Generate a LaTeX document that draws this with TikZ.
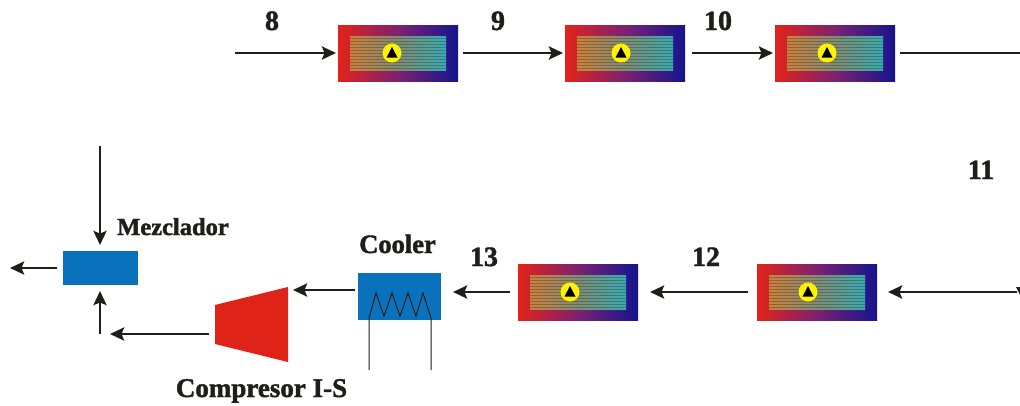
\documentclass[tikz,border=0pt]{standalone}
\usepackage{fontspec}
\setmainfont{Liberation Serif}[BoldFeatures={FakeBold=1.6}]
\usetikzlibrary{arrows.meta}
\definecolor{ink}{HTML}{1E1E1C}
\definecolor{coolblue}{HTML}{0A72BC}
\definecolor{compred}{HTML}{DF2318}
\definecolor{hxleft}{HTML}{E2231A}
\definecolor{hxmid}{HTML}{7B2270}
\definecolor{hxright}{HTML}{16148F}
\definecolor{coreleft}{HTML}{D0803A}
\definecolor{coremid}{HTML}{7F8C72}
\definecolor{coreright}{HTML}{35ADB5}
\tikzset{
  flow/.style={draw=ink,line width=2.7pt,-{Stealth[length=14pt,width=13pt,inset=2.5pt]}},
  plainflow/.style={draw=ink,line width=2.7pt},
  hxbox/.style={minimum width=120pt,minimum height=56pt,inner sep=0pt,outer sep=0pt,
    left color=hxleft,right color=hxright,middle color=hxmid},
  hxcore/.style={minimum width=96pt,minimum height=34pt,inner sep=0pt,outer sep=0pt,
    left color=coreleft,right color=coreright,middle color=coremid},
  stripe/.style={draw=black!60!coremid,opacity=.4,line width=.8pt},
  lbl/.style={font=\bfseries\fontsize{25}{27}\selectfont,text=ink,anchor=base,inner sep=0pt},
  numlbl/.style={lbl,font=\bfseries\fontsize{28}{30}\selectfont},
  blockblue/.style={fill=coolblue,draw=none,inner sep=0pt,outer sep=0pt},
}
\newcommand{\hxunit}[4]{%
  \node[hxbox] (#1) at (#2,#3) {};
  \node[hxcore] (#1core) at (#2,#3) {};
  \foreach \dy in {-15,-12,...,15}{
    \draw[stripe] (#2-48,#3+\dy) -- (#2+48,#3+\dy);
  }
  \node[circle,fill=yellow,minimum size=19pt,inner sep=0pt] (#1pump) at (#2+#4,#3) {};
  \fill[black] (#2+#4,#3-6) -- (#2+#4+5.5,#3+4.5) -- (#2+#4-5.5,#3+4.5) -- cycle;
}
\begin{document}
\begin{tikzpicture}[x=1pt,y=-1pt]
\useasboundingbox (0,0) rectangle (1020,405);
\fill[white] (0,0) rectangle (1020,405);
% exchangers
\hxunit{hA}{398}{53}{-6}
\hxunit{hB}{625}{53}{-4}
\hxunit{hC}{835}{53}{-8}
\hxunit{hD}{578}{292}{-8}
\hxunit{hE}{817}{292}{-9}
% cooler
\node[blockblue,minimum width=83pt,minimum height=47pt] (cooler) at (399.5,296.5) {};
\draw[draw=ink,line width=1pt] (369,370) -- (369,318) -- (376,293) -- (384,316) -- (392,293) -- (400,316) -- (408,293) -- (416,316) -- (423,293) -- (431,318) -- (431,370);
% compressor
\fill[compred] (215,305) -- (288,287) -- (288,362) -- (215,344) -- cycle;
\coordinate (compIn) at (288,290);
\coordinate (compOut) at (215,334);
% mixer
\node[blockblue,minimum width=75pt,minimum height=34pt] (mixer) at (100.5,268) {};
% free ends
\coordinate (inTop) at (235,53);
\coordinate (outTop) at (1020,53);
\coordinate (inRight) at (1017,292);
\coordinate (inMix) at (100,146);
\coordinate (outMix) at (10,268);
\coordinate (bend) at (100,334);
\coordinate (bendArrow) at (110,334);
% connectors
\draw[flow,shorten >=2pt] (inTop) -- (hA.west);
\draw[flow,shorten <=5pt,shorten >=2pt] (hA.east) -- (hB.west);
\draw[flow,shorten <=7pt,shorten >=2pt] (hB.east) -- (hC.west);
\draw[plainflow,shorten <=5pt] (hC.east) -- (outTop);
\draw[flow,shorten >=11pt] (inRight) -- (hE.east);
\draw[flow,shorten <=9pt,shorten >=12pt] (hE.west) -- (hD.east);
\draw[flow,shorten <=8pt,shorten >=12pt] (hD.west) -- (hD.west -| cooler.east);
\draw[flow,shorten <=3pt,shorten >=5pt] (compIn -| cooler.west) -- (compIn);
\draw[flow,shorten <=6pt] (compOut) -- (bendArrow);
\draw[flow,shorten >=6pt] (bend) -- (bend |- mixer.south);
\draw[flow,shorten >=6pt] (inMix) -- (inMix |- mixer.north);
\draw[flow,shorten <=6pt] (mixer.west) -- (outMix);
% tip of the next stream at the right edge
\fill[ink] (1016,287) -- (1020,287) -- (1020,295) -- cycle;
% labels
\node[numlbl] (l8) at (272,30) {8};
\node[numlbl] (l9) at (498,30) {9};
\node[numlbl] (l10) at (718,30) {10};
\node[numlbl] (l11) at (981,179) {11};
\node[numlbl] (l12) at (706,266) {12};
\node[numlbl] (l13) at (484,266) {13};
\node[lbl,font=\bfseries\fontsize{26.5}{28}\selectfont] (lcool) at (397.5,253) {Cooler};
\node[lbl,font=\bfseries\fontsize{24.5}{26}\selectfont] (lmix) at (173,235) {Mezclador};
\node[lbl,font=\bfseries\fontsize{27}{29}\selectfont] (lcomp) at (261.5,397) {Compresor I-S};
\end{tikzpicture}
\end{document}
